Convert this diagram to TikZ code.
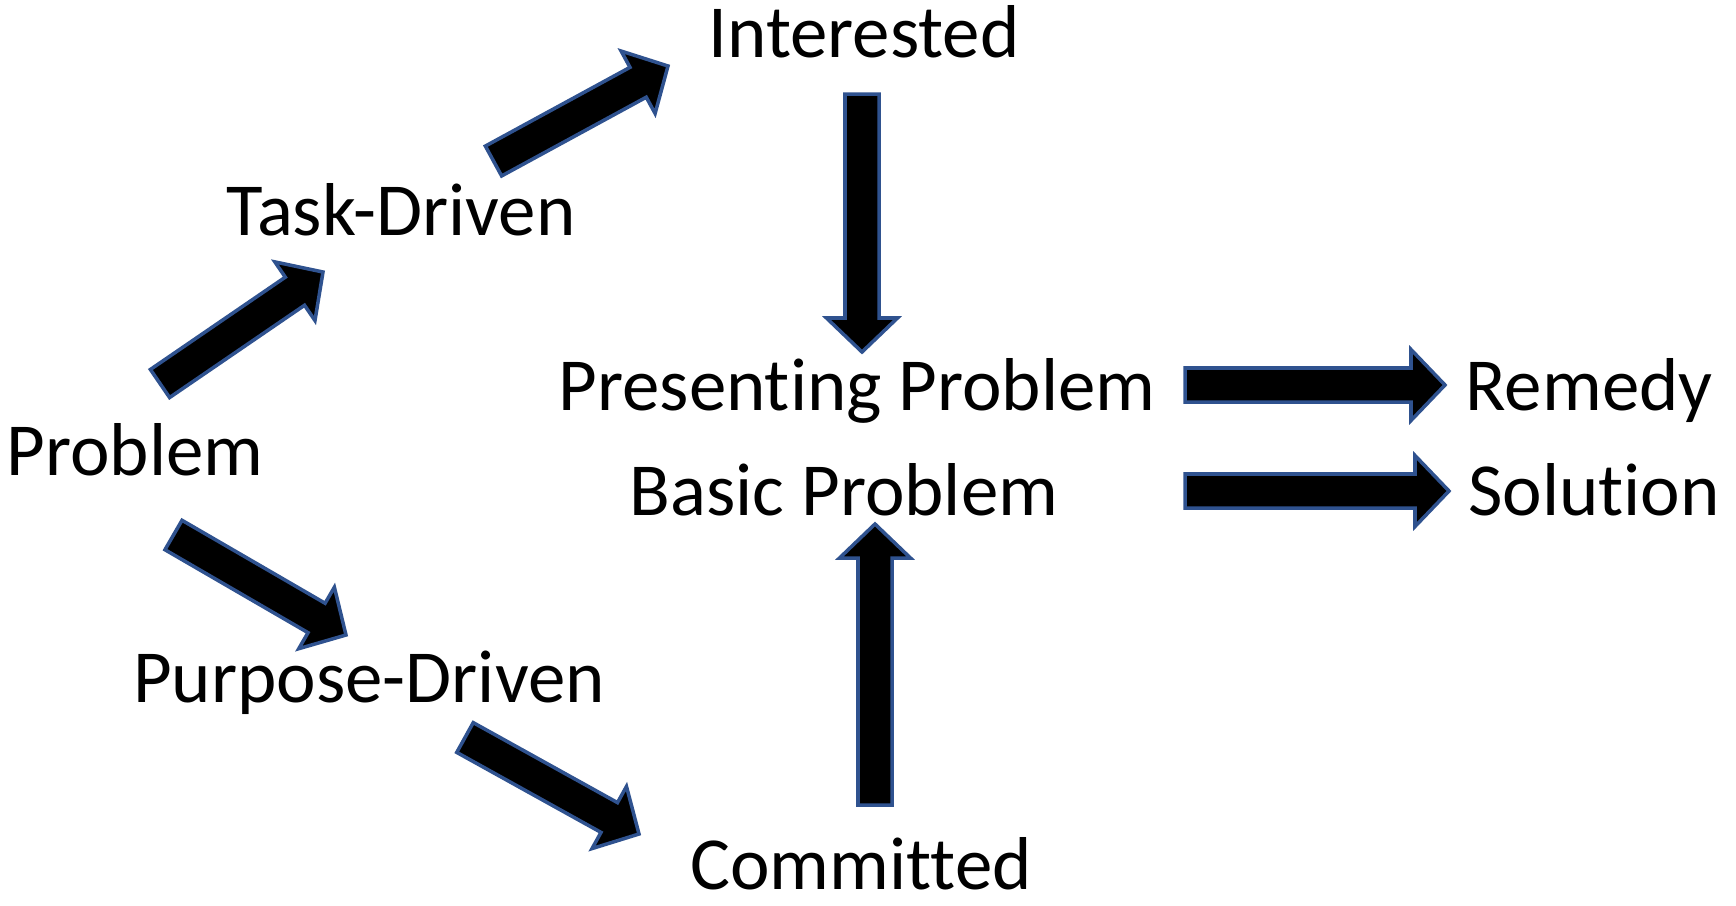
\documentclass[tikz,border=0pt]{standalone}
\usepackage{fontspec}
\setmainfont{Carlito}[Ligatures=NoCommon]
\usetikzlibrary{calc}

\definecolor{edgeblue}{HTML}{2F528F}

% half shaft width, half head width, head length
\def\sw{0.17cm}
\def\hw{0.355cm}
\def\hl{0.34cm}

\newcommand{\blockarrow}[2]{%
  \coordinate (#1-b) at ($(#2)!\hl!(#1)$);
  \filldraw[blockarr] ($(#1)!\sw!90:(#2)$) -- ($(#1-b)!\sw!-90:(#1)$)
    -- ($(#1-b)!\hw!-90:(#1)$) -- (#2) -- ($(#1-b)!\hw!90:(#1)$)
    -- ($(#1-b)!\sw!90:(#1)$) -- ($(#1)!\sw!-90:(#2)$) -- cycle;
}

\tikzset{
  blockarr/.style={fill=black, draw=edgeblue, line width=1pt, line join=miter},
  label/.style={anchor=base, inner sep=0pt, font=\fontsize{21.3}{25}\selectfont}
}

\begin{document}
\begin{tikzpicture}[x=0.01cm, y=-0.01cm]

\useasboundingbox (0,0) rectangle (1736,905);

\node[label] (problem) at (135,475) {Problem};
\node[label] (task) at (401,235) {Task-Driven};
\node[label] (purpose) at (369,702) {Purpose-Driven};
\node[label] (interested) at (864,57) {Interested};
\node[label, text depth=0pt] (committed) at (861,889) {Committed};
\node[label] (present) at (857,410) {Presenting Problem};
\node[label] (basic) at (844,515) {Basic Problem};
\node[label] (remedy) at (1589,410) {Remedy};
\node[label] (solution) at (1594,515) {Solution};

% arrow ends
\coordinate (a1) at (160,383.5);
\coordinate (a1t) at (323,272);
\coordinate (a2) at (493.5,161);
\coordinate (a2t) at (668,66);
\coordinate (a3) at (862,94);
\coordinate (a3t) at (862,352);
\coordinate (a4) at (1185,385);
\coordinate (a4t) at (1445,385);
\coordinate (a5) at (1185,491);
\coordinate (a5t) at (1449,491);
\coordinate (a6) at (875,805);
\coordinate (a6t) at (875,524);
\coordinate (a7) at (173.5,535);
\coordinate (a7t) at (346,635);
\coordinate (a8) at (465,737.5);
\coordinate (a8t) at (639,834);

\blockarrow{a1}{a1t}
\blockarrow{a2}{a2t}
\blockarrow{a3}{a3t}
\blockarrow{a4}{a4t}
\blockarrow{a5}{a5t}
\blockarrow{a6}{a6t}
\blockarrow{a7}{a7t}
\blockarrow{a8}{a8t}

\end{tikzpicture}
\end{document}
